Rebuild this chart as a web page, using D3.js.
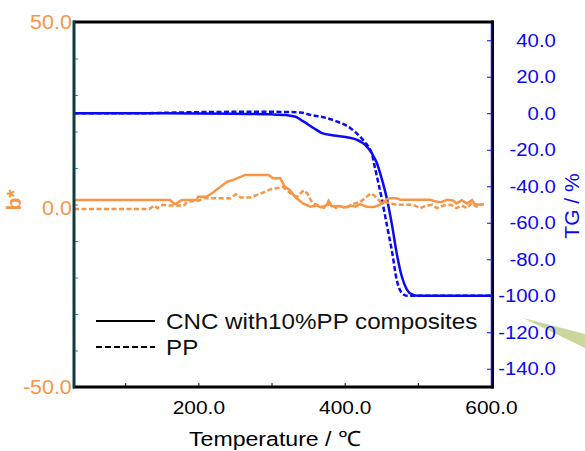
<!DOCTYPE html>
<html>
<head>
<meta charset="utf-8">
<script src="https://cdn.jsdelivr.net/npm/d3@7/dist/d3.min.js"></script>
<style>
  html, body { margin: 0; padding: 0; background: #fff; }
  svg { display: block; font-family: "Liberation Sans", Arial, sans-serif; }
</style>
</head>
<body>
<svg id="chart" width="585" height="451"></svg>
<script>
// ---------- data ----------
const seriesNames = ["CNC with10%PP composites", "PP"];

// TG (right axis), temperature in °C
const tgCncT = [30,150,250,300,320,333,344,358,369,385,403,417,428,437,444,451,458,465,471,478,485,492,500,600];
const tgCncV = [0,0,-0.3,-0.6,-1.0,-1.9,-4.6,-8.2,-10.9,-12.2,-13.1,-14.6,-17.3,-21.9,-27.3,-36.4,-47.4,-62,-76.5,-89.3,-96.6,-99.3,-100,-100];
const tgPpT  = [30,120,160,200,280,320,340,353,371,390,408,421,430,437,442,451,458,465,471,478,485,600];
const tgPpV  = [0,0,0.3,0.6,0.8,0.7,0.4,-0.9,-2.2,-4.6,-8.2,-12.8,-17.0,-22.0,-31.0,-47.4,-62,-76.5,-91,-98.4,-100,-100];

// b* (left axis)
const bCncT = [30,161,168,177,198,199.5,211,220,239,247,264,296,302,312,318,325,332,343,353,362,368,375,378,382,392,400,408,415,421,430,440,449,453,458,462,471,476,517,525,531,540,548,553,560,567,574,578,585,590];
const bCncV = [1.2,1.2,0.05,1.2,1.2,2.1,2.1,3.3,6.2,6.7,8.1,8.1,7.2,7.2,4.9,4.0,2.1,0.3,-0.6,-0.3,-0.8,-0.2,1.0,-0.5,-0.4,-0.8,-0.3,-0.6,0.1,-0.6,-0.7,0.0,0.6,1.5,1.7,1.7,1.3,1.3,0.8,0.6,1.3,1.1,0.3,1.2,0.3,1.2,0.0,0.0,0.1];
const bPpT = [30,133,140,144,151,160,180,185,200,207,244,251,258,271,285,299,316,326,335,344,349,356,365,372,380,388,395,402,410,421,428,435,440,449,455,471,494,503,512,520,526,535,545,553,560,567,574,580,590];
const bPpV = [-1.2,-1.2,-0.3,-1.0,-0.1,-0.3,-0.3,0.8,1.0,1.7,1.7,2.8,1.9,1.9,3.0,4.2,4.8,3.0,2.1,3.9,3.0,0.3,-0.3,-0.9,0.3,-0.9,-0.5,-1.0,0.1,0.6,1.8,3.0,2.5,0.7,0.7,-0.1,-0.1,-1.0,-0.3,-0.1,-1.0,-0.3,-0.1,-1.0,-0.3,-1.0,0.4,-0.6,0.1];

// axes ticks
const xTickValues = [100,200,300,400,500,600];
const xTickLabels = ["","200.0","","400.0","","600.0"];
const leftTickValues = [50,40,30,20,10,0,-10,-20,-30,-40,-50];
const leftTickLabels = ["50.0","","","","","0.0","","","","","-50.0"];
const rightTickValues = [40,20,0,-20,-40,-60,-80,-100,-120,-140];
const rightTickLabels = ["40.0","20.0","0.0","-20.0","-40.0","-60.0","-80.0","-100.0","-120.0","-140.0"];

// ---------- layout ----------
const L = 74, R = 491, T = 22, B = 387;
const ORANGE = "#f79646", BLUE = "#0a0af5", TEAL = "#0e3c3c";
const SX = 1.1; // horizontal text stretch
const FONT = "Liberation Sans, Arial, sans-serif";

const svg = d3.select("#chart");
const x = d3.scaleLinear().domain([30, 600]).range([L, R]);
const yL = d3.scaleLinear().domain([-50, 50]).range([B, T]);
const yR = d3.scaleLinear().domain([-150, 50]).range([B, T]);

// decorative wedge (bottom right)
svg.append("polygon")
  .attr("points", "523,318 585,334 585,348")
  .attr("fill", "#cad79c");

// ---------- lines ----------
const zip = (a, b) => a.map((t, i) => [t, b[i]]);
const lineR = d3.line().x(d => x(d[0])).y(d => yR(d[1])).curve(d3.curveMonotoneX);
const lineL = d3.line().x(d => x(d[0])).y(d => yL(d[1]));

svg.append("path").datum(zip(tgPpT, tgPpV)).attr("d", lineR)
  .attr("fill", "none").attr("stroke", BLUE).attr("stroke-width", 2.5).attr("stroke-dasharray", "5,2.5");
svg.append("path").datum(zip(tgCncT, tgCncV)).attr("d", lineR)
  .attr("fill", "none").attr("stroke", BLUE).attr("stroke-width", 2.5);
svg.append("path").datum(zip(bPpT, bPpV)).attr("d", lineL)
  .attr("fill", "none").attr("stroke", ORANGE).attr("stroke-width", 2.5).attr("stroke-dasharray", "5,2.5");
svg.append("path").datum(zip(bCncT, bCncV)).attr("d", lineL)
  .attr("fill", "none").attr("stroke", ORANGE).attr("stroke-width", 2.5);

// ---------- axes ----------
const gx = svg.append("g").attr("transform", `translate(0,${B})`)
  .call(d3.axisBottom(x).tickValues(xTickValues).tickSize(-4).tickPadding(14)
    .tickFormat((d, i) => xTickLabels[i]));
gx.select(".domain").remove();
gx.selectAll(".tick line").attr("stroke", "#000").attr("stroke-width", 1);
gx.selectAll("text").attr("fill", "#000").attr("font-size", 19)
  .attr("font-family", FONT).attr("transform", `scale(${SX},1)`);

const gl = svg.append("g").attr("transform", `translate(${L},0)`)
  .call(d3.axisLeft(yL).tickValues(leftTickValues).tickSize(-4).tickPadding(2)
    .tickFormat((d, i) => leftTickLabels[i]));
gl.select(".domain").remove();
gl.selectAll(".tick line").attr("stroke", "#2a8c8c").attr("stroke-width", 1);
gl.selectAll("text").attr("fill", ORANGE).attr("font-size", 19.5)
  .attr("font-family", FONT).attr("transform", `scale(${SX},1)`);
gl.selectAll(".tick").filter(d => d === 0).select("text").attr("dy", "0.52em");

const gr = svg.append("g").attr("transform", `translate(${R},0)`)
  .call(d3.axisRight(yR).tickValues(rightTickValues).tickSize(-4).tickPadding(2)
    .tickFormat((d, i) => rightTickLabels[i]));
gr.select(".domain").remove();
gr.selectAll(".tick line").attr("stroke", BLUE).attr("stroke-width", 1);
gr.selectAll("text").attr("fill", BLUE).attr("font-size", 18.5)
  .attr("text-anchor", "end").attr("x", 59)
  .attr("font-family", FONT).attr("transform", `scale(${SX},1)`);

// frame
svg.append("line").attr("x1", L - 1).attr("x2", R + 2.5).attr("y1", T).attr("y2", T)
  .attr("stroke", "#000").attr("stroke-width", 3);
svg.append("line").attr("x1", L - 1).attr("x2", R + 2.5).attr("y1", B).attr("y2", B)
  .attr("stroke", "#000").attr("stroke-width", 3);
svg.append("line").attr("x1", L).attr("x2", L).attr("y1", T - 1.5).attr("y2", B + 1.5)
  .attr("stroke", TEAL).attr("stroke-width", 3);
svg.append("line").attr("x1", R + 1.5).attr("x2", R + 1.5).attr("y1", T - 1.5).attr("y2", B + 1.5)
  .attr("stroke", "#000").attr("stroke-width", 3);
svg.append("line").attr("x1", R + 0.5).attr("x2", R + 0.5).attr("y1", T + 1.5).attr("y2", B - 1.5)
  .attr("stroke", BLUE).attr("stroke-width", 1.5);

// ---------- titles ----------
svg.append("text").attr("transform", `translate(275,446) scale(${SX},1)`)
  .attr("text-anchor", "middle").attr("font-size", 21).attr("fill", "#000")
  .attr("font-family", FONT)
  .text("Temperature / ℃");
svg.append("text").attr("transform", `translate(21,200) rotate(-90)`)
  .attr("text-anchor", "middle").attr("font-size", 21).attr("font-weight", "bold").attr("fill", ORANGE)
  .attr("font-family", FONT)
  .text("b*");
svg.append("text").attr("transform", `translate(579,206) rotate(-90)`)
  .attr("text-anchor", "middle").attr("font-size", 21).attr("fill", BLUE)
  .attr("font-family", FONT)
  .text("TG / %");

// ---------- legend ----------
const leg = svg.append("g");
const legItems = [{name: seriesNames[0], dash: null, y: 321}, {name: seriesNames[1], dash: "6,3", y: 347}];
legItems.forEach(it => {
  leg.append("line").attr("x1", 96).attr("x2", 155).attr("y1", it.y).attr("y2", it.y)
    .attr("stroke", "#000").attr("stroke-width", 2).attr("stroke-dasharray", it.dash);
  leg.append("text").attr("transform", `translate(166,${it.y + 7.5}) scale(${SX},1)`)
    .attr("font-size", 22).attr("fill", "#111").attr("font-family", FONT).text(it.name);
});
</script>
</body>
</html>
